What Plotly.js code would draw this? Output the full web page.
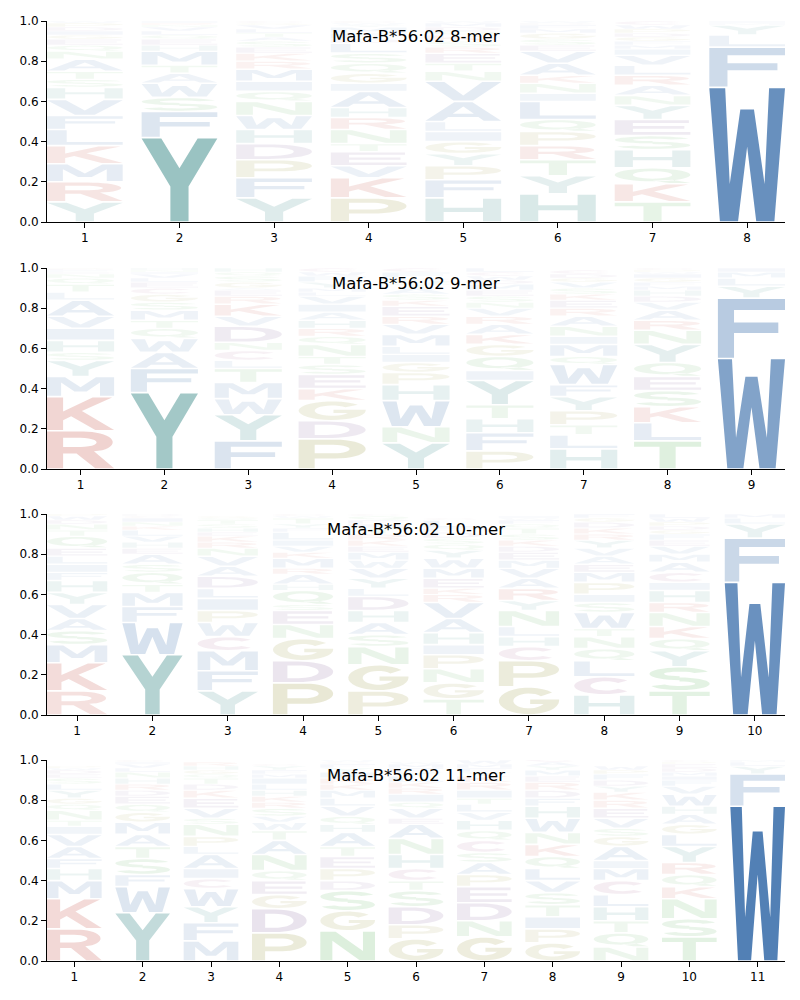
<!DOCTYPE html>
<html><head><meta charset="utf-8">
<script src="https://cdn.plot.ly/plotly-3.0.1.min.js"></script>
<style>body{margin:0;background:#fff}#plot{width:800px;height:1000px}</style>
</head><body><div id="plot"></div>
<script>
// ---------------- DATA (letters bottom -> top, heights = probability) ----------------
const titles = ["Mafa-B*56:02 8-mer","Mafa-B*56:02 9-mer","Mafa-B*56:02 10-mer","Mafa-B*56:02 11-mer"];

const letters8 = ["YRMKLFVHSTANQEGIDPWC","YFSWATMHEQLVNRI","YFPDHWNQIMRKESATLVGC","PKVETNRHAIGQSLDFMYWC",
  "HFPYGILAVNTERSKQDMWC","HYTRPQLINKAVESGMFDWC","TKQHSEYNARLVIMFGDPWC","WFLYMI"];
const heights8 = [
  [.10,.10,.09,.09,.08,.07,.08,.06,.04,.04,.06,.04,.03,.03,.02,.02,.02,.02,.01,.01],
  [.42,.13,.07,.07,.05,.04,.07,.03,.03,.02,.02,.02,.01,.01,.01],
  [.12,.10,.09,.08,.07,.07,.07,.05,.05,.06,.04,.04,.03,.03,.02,.02,.02,.02,.01,.01],
  [.12,.10,.06,.07,.04,.07,.06,.05,.08,.04,.05,.05,.05,.05,.02,.03,.03,.01,.01,.01],
  [.12,.09,.07,.06,.06,.05,.05,.10,.10,.05,.04,.05,.03,.03,.03,.02,.02,.02,.01,.01],
  [.14,.09,.08,.07,.07,.06,.09,.04,.05,.04,.06,.06,.03,.03,.03,.02,.02,.01,.01,.01],
  [.10,.09,.08,.09,.07,.08,.07,.05,.05,.05,.05,.05,.03,.02,.02,.02,.02,.02,.02,.02],
  [.67,.20,.06,.05,.01,.01]];

const letters9 = ["RKMYSHIVALTQNEFDG","YFAWQTMSGCELVINH","FYWMTLCNDVKREAGSQH","PDGKESTNQRHAIVLMYFWC",
  "YNWHPGILMVREKSATQDFC","PFHTYIQGKARVNSEMDWCL","HLTPYFWQMINAREKSVGDC","TLKSEQYNRAVDHMFGIWPC","WFYLMI"];
const heights9 = [
  [.19,.17,.10,.08,.04,.06,.06,.06,.08,.04,.04,.03,.02,.01,.01,.005,.005],
  [.38,.12,.08,.07,.05,.04,.05,.04,.04,.03,.03,.02,.02,.01,.01,.01],
  [.14,.13,.08,.08,.07,.04,.05,.04,.08,.05,.06,.04,.03,.01,.03,.03,.02,.02],
  [.15,.09,.10,.06,.07,.05,.04,.06,.04,.04,.04,.04,.04,.04,.02,.02,.03,.03,.02,.02],
  [.13,.08,.13,.08,.06,.05,.04,.04,.06,.05,.04,.05,.03,.03,.03,.02,.02,.01,.03,.02],
  [.09,.09,.07,.07,.12,.05,.07,.06,.05,.05,.04,.04,.03,.03,.03,.03,.02,.02,.02,.02],
  [.10,.07,.05,.07,.07,.06,.10,.04,.06,.04,.05,.05,.04,.04,.03,.03,.03,.02,.02,.02],
  [.14,.09,.08,.08,.07,.07,.09,.07,.05,.05,.04,.03,.03,.02,.02,.02,.02,.01,.01,.01],
  [.55,.30,.06,.04,.03,.02]];

const letters10 = ["RKMSAVYHFILEQTNDWPC","YWFMTQSAEHVLKNICD","YFMCWPILDAVNRKEHSTQG","PDGNESQHARMKVILFYTWC",
  "PGNSAHDLYVWMEKRTIFQC","TGNPIHAVRKEMWYQSDFLC","GPCHLNYRAVMEDKSTQFWI","HCLQNTWSIPMEAVYRKDGF",
  "TSYQKNRHICAMVEFGDPWL","WFYLM"];
const heights10 = [
  [.12,.14,.09,.07,.06,.07,.06,.06,.04,.04,.04,.04,.06,.03,.03,.02,.02,.01,.01],
  [.30,.16,.08,.07,.04,.06,.04,.05,.03,.03,.03,.03,.02,.02,.02,.01,.01],
  [.12,.10,.10,.07,.07,.06,.06,.05,.06,.05,.05,.04,.03,.03,.02,.02,.02,.02,.01,.01],
  [.16,.11,.11,.07,.07,.03,.07,.03,.05,.03,.05,.03,.03,.03,.04,.02,.02,.03,.01,.01],
  [.12,.13,.09,.06,.06,.06,.07,.04,.05,.05,.04,.04,.03,.03,.03,.03,.02,.02,.02,.01],
  [.08,.08,.07,.07,.05,.06,.07,.08,.04,.03,.05,.05,.05,.04,.03,.03,.03,.02,.04,.01],
  [.14,.13,.07,.05,.05,.08,.05,.06,.05,.05,.04,.04,.03,.03,.03,.03,.02,.02,.01,.01],
  [.10,.09,.08,.06,.06,.04,.08,.05,.04,.06,.05,.04,.04,.04,.04,.03,.03,.03,.02,.02],
  [.12,.12,.08,.06,.06,.07,.05,.06,.04,.05,.05,.04,.04,.03,.03,.02,.02,.02,.02,.02],
  [.66,.22,.07,.03,.02]];

const letters11 = ["RKMHFAVITNQGYLSEDWP","YWFSTAMGQEDRHNLVIC","MFYWCIALPNSVEKDTQGHR","PDGEQNATWVSRKHLIMFYC",
  "NGSDPETAHQVLMKRIYFCW","GPDSTCHNAEVQIRKLYFMW","GNDEPASCQHVLTIRKYFMW","GPITSVLQKNWHFDREMYAC",
  "NQTHLCMIAGSVERKYDFPW","TSNKQRYLGAHWVFIMDEPC","WFYLM"];
const heights11 = [
  [.16,.15,.09,.06,.05,.06,.06,.04,.03,.05,.03,.03,.04,.03,.03,.02,.02,.01,.01],
  [.24,.13,.06,.08,.06,.06,.06,.05,.04,.04,.03,.03,.03,.03,.02,.02,.01,.01],
  [.10,.09,.08,.09,.05,.05,.07,.04,.05,.06,.03,.05,.05,.04,.03,.03,.02,.02,.02,.02],
  [.14,.12,.07,.07,.05,.08,.07,.05,.04,.03,.04,.03,.03,.03,.03,.03,.02,.02,.02,.01],
  [.15,.10,.10,.05,.06,.06,.05,.07,.04,.04,.05,.04,.04,.03,.03,.03,.02,.02,.01,.01],
  [.11,.07,.09,.08,.05,.06,.07,.08,.07,.03,.05,.03,.04,.03,.03,.03,.02,.02,.02,.01],
  [.12,.08,.09,.08,.06,.06,.05,.06,.05,.05,.04,.04,.03,.04,.04,.03,.02,.02,.02,.02],
  [.09,.07,.06,.06,.06,.06,.06,.06,.06,.06,.07,.06,.04,.04,.04,.03,.03,.02,.02,.02],
  [.07,.07,.06,.07,.06,.07,.06,.04,.07,.05,.04,.05,.05,.04,.04,.03,.03,.03,.02,.02],
  [.12,.09,.10,.06,.06,.06,.08,.06,.05,.05,.04,.06,.04,.03,.02,.02,.02,.02,.01,.01],
  [.77,.16,.04,.02,.01]];

// ---------------- STYLE ----------------
const BLUE='66,116,174', TEAL='58,138,136', RED='195,75,63', OLIVE='152,150,62',
      PURPLE='125,90,149', GREEN='87,176,87', MAGENTA='160,90,140';
const colorOf = {A:BLUE,F:BLUE,I:BLUE,L:BLUE,M:BLUE,V:BLUE,W:BLUE,Y:TEAL,H:TEAL,K:RED,R:RED,
  D:PURPLE,E:PURPLE,C:MAGENTA,S:GREEN,T:GREEN,N:GREEN,Q:GREEN,P:OLIVE,G:OLIVE};

// ---------------- GLYPHS (unit box 0..100, y up) ----------------
function arc(cx,cy,rx,ry,a0,a1,n){const p=[];for(let i=0;i<=n;i++){const a=(a0+(a1-a0)*i/n)*Math.PI/180;p.push([cx+rx*Math.cos(a),cy+ry*Math.sin(a)]);}return p;}
const G = {
  A:{o:[[[0,0],[23,0],[30,20],[70,20],[77,0],[100,0],[62,100],[38,100]]],h:[[[36,37],[64,37],[50,77]]]},
  C:{o:[arc(50,50,50,50,40,320,28).concat(arc(53,50,26,28,320,40,22))],h:[]},
  D:{o:[[[0,0],[0,100],[42,100]].concat(arc(42,50,58,50,90,-90,22))],h:[[[24,19],[24,81],[42,81]].concat(arc(42,50,34,31,90,-90,18))]},
  E:{o:[[[0,0],[100,0],[100,19],[24,19],[24,42],[92,42],[92,60],[24,60],[24,81],[98,81],[98,100],[0,100]]],h:[]},
  F:{o:[[[0,0],[24,0],[24,42],[90,42],[90,60],[24,60],[24,81],[100,81],[100,100],[0,100]]],h:[]},
  G:{o:[arc(50,50,50,50,40,360,28).concat([[100,55],[52,55],[52,38],[74,38]]).concat(arc(50,50,26,28,330,40,22))],h:[]},
  H:{o:[[[0,0],[24,0],[24,41],[76,41],[76,0],[100,0],[100,100],[76,100],[76,60],[24,60],[24,100],[0,100]]],h:[]},
  I:{o:[[[0,0],[100,0],[100,100],[0,100]]],h:[]},
  K:{o:[[[0,0],[24,0],[24,30],[36,42],[72,0],[100,0],[52,58],[97,100],[68,100],[24,57],[24,100],[0,100]]],h:[]},
  L:{o:[[[0,0],[100,0],[100,19],[26,19],[26,100],[0,100]]],h:[]},
  M:{o:[[[0,0],[21,0],[21,72],[41,24],[59,24],[79,72],[79,0],[100,0],[100,100],[73,100],[50,46],[27,100],[0,100]]],h:[]},
  N:{o:[[[0,0],[22,0],[22,68],[72,0],[100,0],[100,100],[78,100],[78,32],[28,100],[0,100]]],h:[]},
  P:{o:[[[0,0],[24,0],[24,34],[55,34]].concat(arc(55,67,45,33,-90,90,18)).concat([[0,100]])],h:[[[24,52],[24,82],[52,82]].concat(arc(52,67,24,15,90,-90,14))]},
  Q:{o:[arc(50,56,50,44,0,360,36),[[50,16],[72,0],[100,0],[76,22]]],h:[arc(50,56,26,26,0,360,28)]},
  R:{o:[[[0,0],[24,0],[24,40],[44,40],[72,0],[100,0],[70,46]].concat(arc(54,71,44,29,-50,90,16)).concat([[0,100]])],h:[[[24,58],[24,83],[50,83]].concat(arc(50,70.5,24,12.5,90,-90,12))]},
  S:{o:[arc(50,72,50,28,20,270,24).concat(arc(50,72,26,10,270,20,16)),arc(50,28,50,28,200,450,24).concat(arc(50,28,26,10,450,200,16))],h:[]},
  T:{o:[[[38,0],[62,0],[62,81],[100,81],[100,100],[0,100],[0,81],[38,81]]],h:[]},
  V:{o:[[[37,0],[63,0],[100,100],[75,100],[50,28],[25,100],[0,100]]],h:[]},
  W:{o:[[[14,0],[38,0],[50,56],[62,0],[86,0],[100,100],[79,100],[73,28],[59,84],[41,84],[27,28],[21,100],[0,100]]],h:[]},
  Y:{o:[[[38,0],[62,0],[62,42],[100,100],[74,100],[50,64],[26,100],[0,100],[38,42]]],h:[]}
};
function area(r){let s=0;for(let i=0;i<r.length;i++){const a=r[i],b=r[(i+1)%r.length];s+=a[0]*b[1]-b[0]*a[1];}return s/2;}
function orient(r,ccw){return (area(r)>0)===ccw?r:r.slice().reverse();}

function glyphPath(ch,pos,y0,y1){
  const g=G[ch]; const rings=g.o.map(r=>orient(r,true)).concat(g.h.map(r=>orient(r,false)));
  return rings.map(r=>'M'+r.map(p=>{const x=pos-0.4+0.8*p[0]/100;const y=y0+(y1-y0)*p[1]/100;return x.toFixed(4)+','+y.toFixed(4);}).join('L')+'Z').join(' ');
}

// ---------------- BUILD ----------------
const panels=[[letters8,heights8],[letters9,heights9],[letters10,heights10],[letters11,heights11]];
const domainsY=[[0.778,0.979],[0.531,0.732],[0.285,0.486],[0.039,0.240]];
const titleY=[0.964,0.717,0.471,0.225];
const layout={width:800,height:1000,margin:{l:0,r:0,t:0,b:0},paper_bgcolor:'#fff',plot_bgcolor:'#fff',
  showlegend:false,font:{family:'DejaVu Sans',size:12,color:'#000'},shapes:[],annotations:[]};
const data=[];
panels.forEach((pl,k)=>{
  const letters=pl[0], heights=pl[1], n=letters.length;
  const xa='xaxis'+(k?k+1:''), ya='yaxis'+(k?k+1:''), xr='x'+(k?k+1:''), yr='y'+(k?k+1:'');
  const positions=letters.map((_,i)=>i+1);
  layout[xa]={domain:[47/800,785/800],anchor:yr,range:[0.6,n+0.4],tickvals:positions,ticktext:positions.map(String),
    showline:true,linecolor:'#000',linewidth:1,ticks:'outside',ticklen:5,tickcolor:'#000',showgrid:false,zeroline:false,
    tickfont:{family:'DejaVu Sans',size:12,color:'#000'},fixedrange:true};
  layout[ya]={domain:domainsY[k],anchor:xr,range:[0,1],tickvals:[0,0.2,0.4,0.6,0.8,1.0],tickformat:'.1f',
    showline:true,linecolor:'#000',linewidth:1,ticks:'outside',ticklen:5,tickcolor:'#000',showgrid:false,zeroline:false,
    tickfont:{family:'DejaVu Sans',size:12,color:'#000'},fixedrange:true};
  const totals=[];
  letters.forEach((str,i)=>{
    let y=0; const hs=heights[i];
    str.split('').forEach((ch,j)=>{
      const h=hs[j]; if(!h) return;
      const pad=Math.min(0.004,h*0.08);
      const a=Math.min(1,0.03+1.15*h);
      layout.shapes.push({type:'path',xref:xr,yref:yr,layer:'below',path:glyphPath(ch,i+1,y+pad,y+h-pad),
        fillcolor:'rgba('+colorOf[ch]+','+a.toFixed(3)+')',line:{width:0}});
      y+=h;
    });
    totals.push(y);
  });
  data.push({type:'scatter',mode:'none',x:positions,y:totals,xaxis:xr,yaxis:yr,hoverinfo:'skip',showlegend:false});
  layout.annotations.push({text:titles[k],xref:'paper',yref:'paper',x:416/800,y:titleY[k],xanchor:'center',yanchor:'middle',
    showarrow:false,font:{family:'DejaVu Sans',size:16.5,color:'#000'}});
});
Plotly.newPlot('plot',data,layout,{staticPlot:true,displayModeBar:false});
</script>
</body></html>
